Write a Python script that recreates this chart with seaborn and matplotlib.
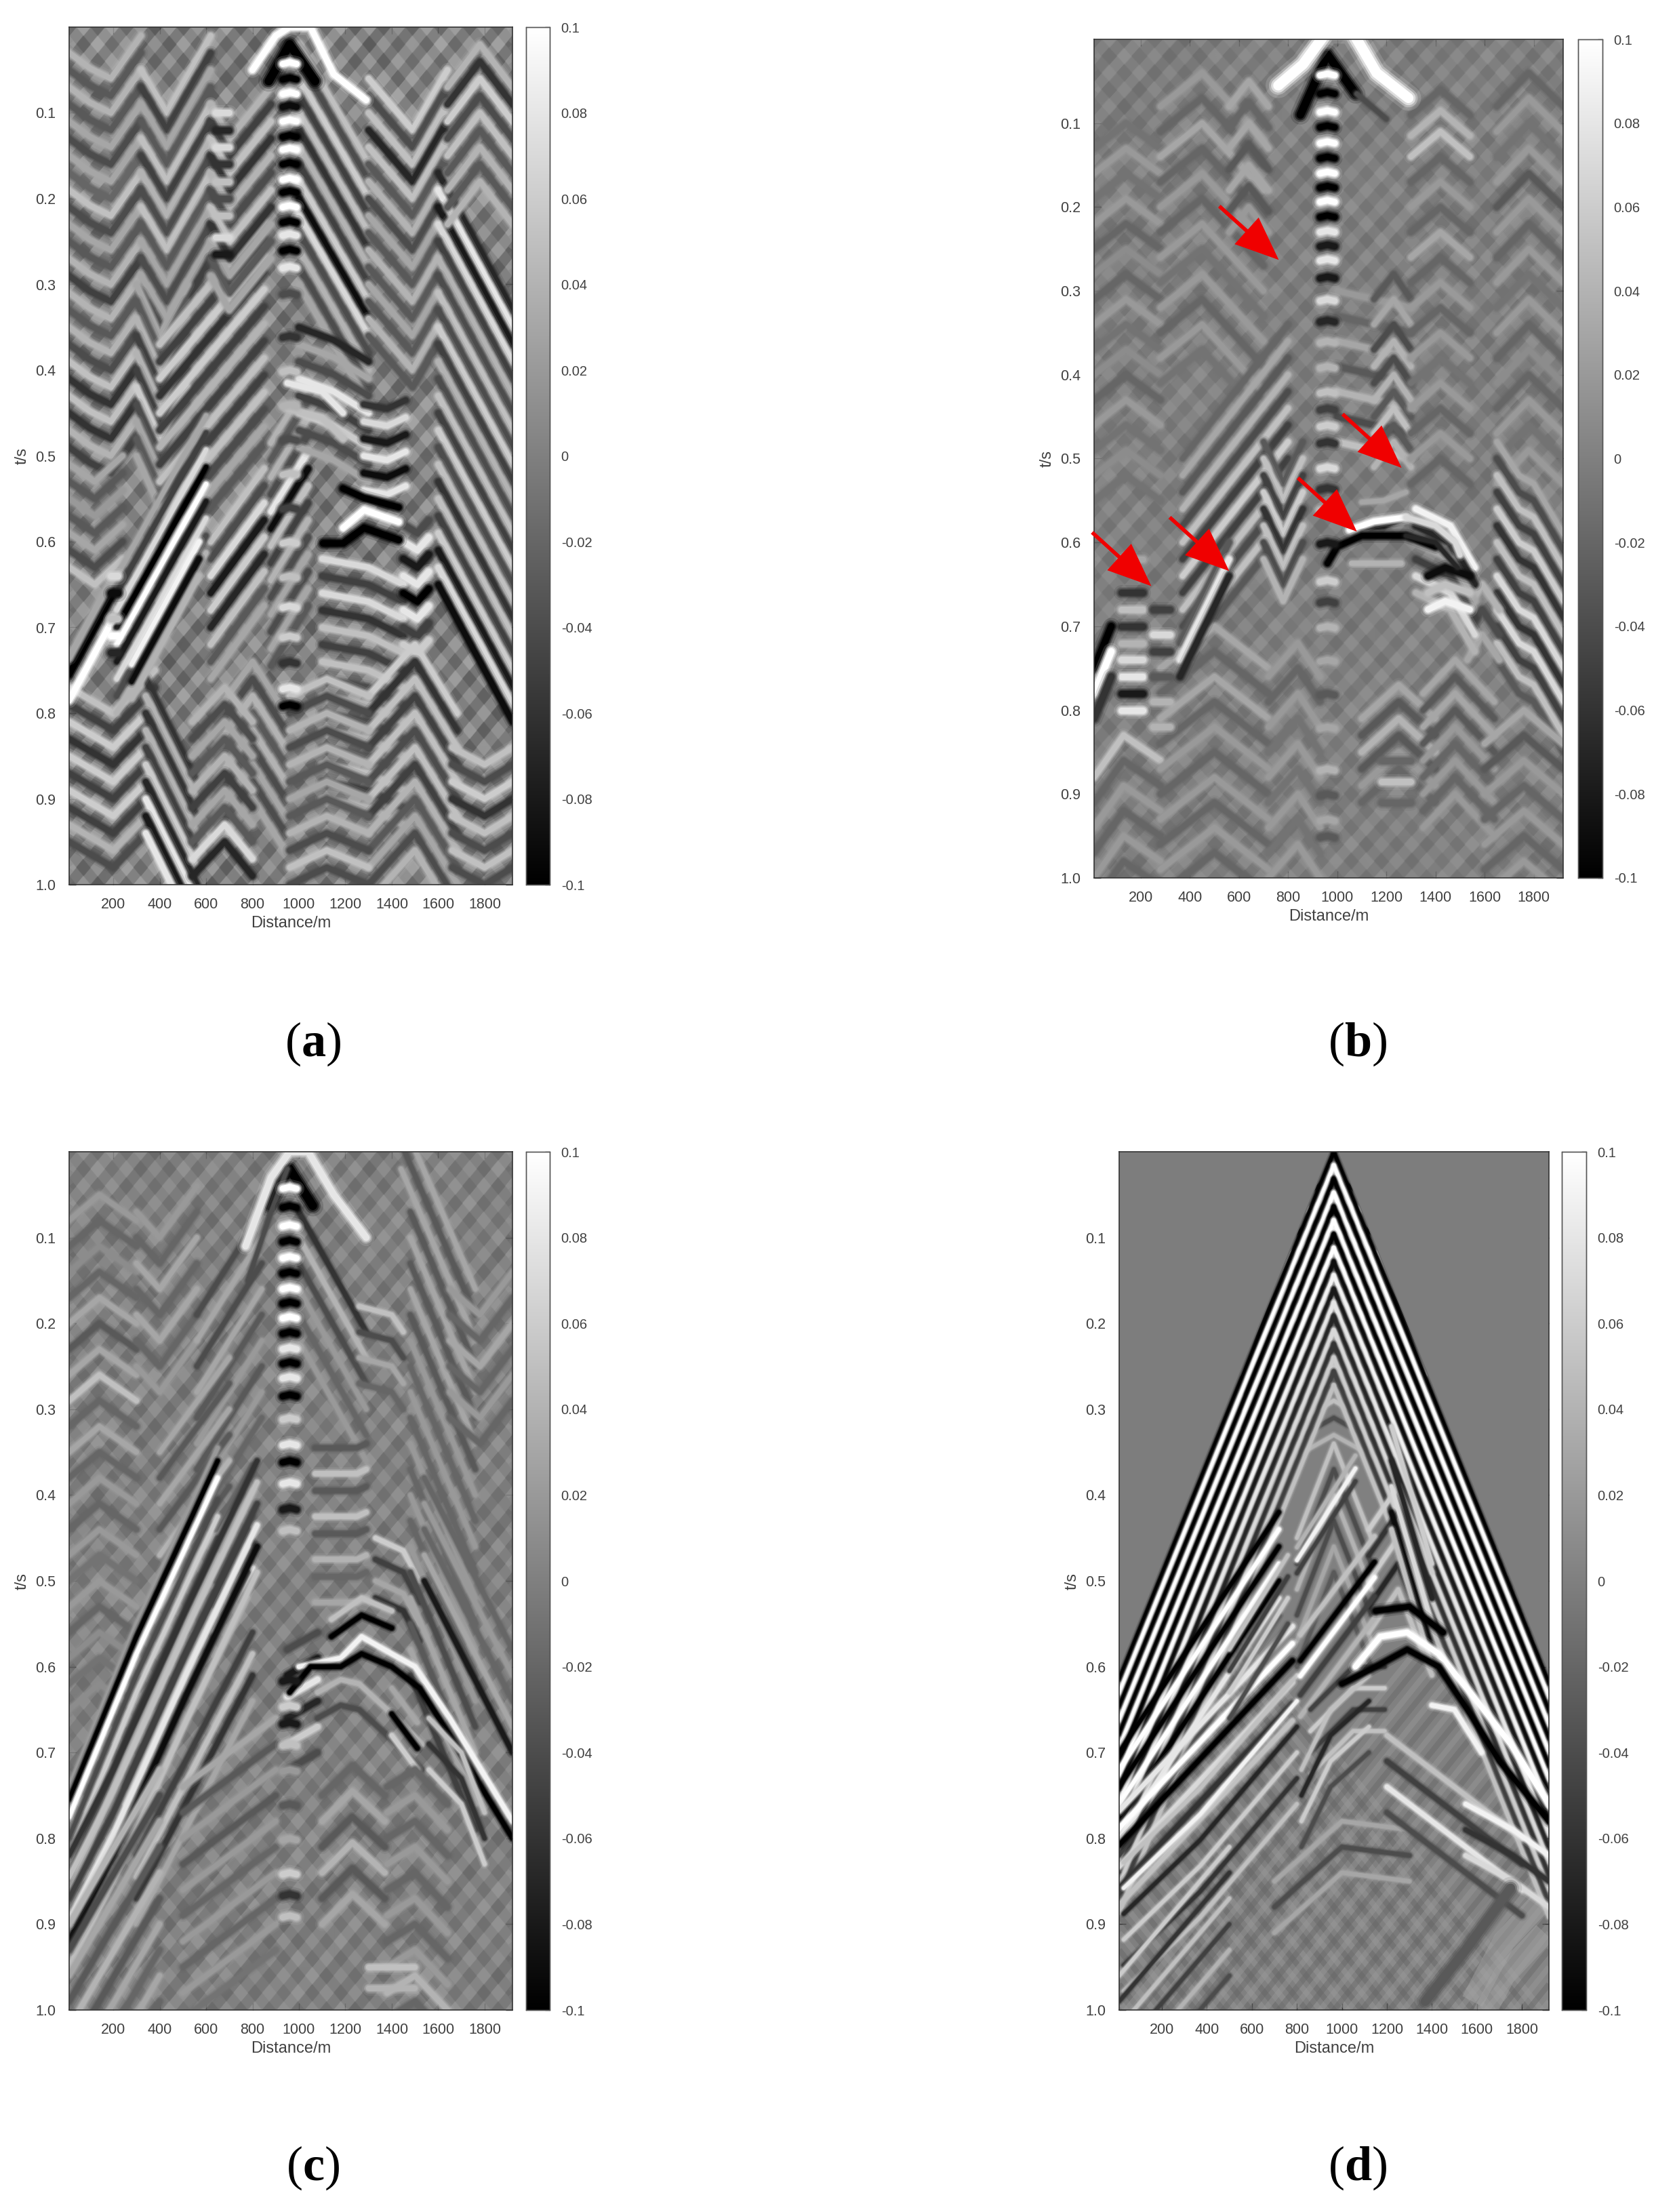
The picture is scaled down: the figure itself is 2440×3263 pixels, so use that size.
import matplotlib
matplotlib.use('Agg')
import matplotlib.pyplot as plt
import matplotlib.patheffects as pe
import numpy as np
import pandas as pd
import seaborn as sns

sns.set_theme(style='white')
plt.rcParams['font.family'] = ['Liberation Sans', 'DejaVu Sans']
plt.rcParams['mathtext.fontset'] = 'custom'
plt.rcParams['mathtext.bf'] = 'Liberation Serif:bold'

W, H = 2440, 3263
TEXT = '#404040'
x_ticks = [200, 400, 600, 800, 1000, 1200, 1400, 1600, 1800]
t_ticks = [0.1, 0.2, 0.3, 0.4, 0.5, 0.6, 0.7, 0.8, 0.9, 1.0]
t_labels = ['0.1', '0.2', '0.3', '0.4', '0.5', '0.6', '0.7', '0.8', '0.9', '1.0']
cbar_ticks = [0.1, 0.08, 0.06, 0.04, 0.02, 0, -0.02, -0.04, -0.06, -0.08, -0.1]
cbar_labels = ['0.1', '0.08', '0.06', '0.04', '0.02', '0', '-0.02', '-0.04', '-0.06', '-0.08', '-0.1']

# smooth background level of each panel, rows from t=0 to t=1
a_bg = [[0, 0, 0, 0, 0, 0], [.004, -.004, 0, .006, -.004, .002], [-.004, .004, -.004, 0, 0, 0],
        [0, 0, .004, -.004, .004, 0], [.004, -.004, 0, .004, -.004, .004], [0, .004, -.004, 0, .004, 0]]
b_bg = [[-.004, -.004, 0, 0, -.002, -.002], [0, -.002, -.002, 0, 0, 0], [-.002, 0, -.004, 0, 0, -.002],
        [0, -.002, 0, 0, -.002, 0], [0, 0, 0, .002, 0, 0], [-.002, 0, -.002, 0, 0, -.002]]
c_bg = [[0, 0, .002, 0, 0, 0], [.002, 0, 0, 0, 0, 0], [0, .002, 0, 0, 0, -.002],
        [0, 0, 0, 0, 0, 0], [-.002, 0, .002, 0, 0, 0], [0, 0, 0, 0, .002, 0]]
d_bg = [[-.002, -.002, -.002, -.002, -.002, -.002], [-.002, -.002, 0, 0, -.002, -.002], [-.002, 0, 0, 0, 0, -.002],
        [0, 0, 0, 0, 0, 0], [0, -.004, 0, 0, 0, 0], [0, 0, 0, 0, .004, .006]]

s24 = [.03, .05, .07, .09, .11, .13, .15, .17, .19, .21, .23, .25, .27, .29, .31, .33, .35, .37, .39, .41, .43, .45, .47, .49]

# weak crossing stripes seen through the three field panels
tex_off = [-.62, -.60, -.58, -.56, -.54, -.52, -.50, -.48, -.46, -.44, -.42, -.40, -.38, -.36, -.34, -.32, -.30, -.28, -.26, -.24,
           -.22, -.20, -.18, -.16, -.14, -.12, -.10, -.08, -.06, -.04, -.02, 0, .02, .04, .06, .08, .10, .12, .14, .16,
           .18, .20, .22, .24, .26, .28, .30, .32, .34, .36, .38, .40, .42, .44, .46, .48, .50, .52, .54, .56,
           .58, .60, .62, .64, .66, .68, .70, .72, .74, .76, .78, .80, .82, .84, .86, .88, .90, .92, .94, .96, .98, 1.0]
tex_up = [3, -2, 3, -4, 2, -3, 4, -3, 2, -2, 3, -4, 4, -2, 3, -3, 2, -4, 3, -3, 4, -2, 2, -3, 4, -4, 2, -3, 3, -2, 4, -3,
          2, -4, 3, -2, 3, -3, 4, -2, 3, -4, 2, -3, 3, -3, 4, -2, 2, -4, 3, -3, 2, -2, 4, -4, 3, -2, 3, -3, 2, -4, 4, -3,
          3, -2, 2, -3, 4, -3, 3, -4, 2, -2, 3, -3, 4, -3, 2, -4, 3, -2]
tex_dn = [-2, 3, -3, 4, -2, 3, -4, 2, -3, 3, -2, 4, -3, 2, -4, 3, -3, 2, -2, 4, -3, 3, -4, 2, -3, 3, -2, 4, -2, 3, -3, 4,
          -3, 2, -2, 3, -4, 3, -2, 4, -3, 2, -3, 3, -4, 2, -3, 4, -2, 3, -3, 2, -4, 3, -2, 3, -3, 4, -2, 3, -4, 2, -3, 3,
          -2, 4, -3, 2, -3, 3, -4, 2, -2, 4, -3, 3, -2, 3, -4, 2, -3, 3]

# bands: x (m), t (s), arrival times of each stripe, amplitude of each stripe in 0.01, stripe width
a_bands = [
    ([10, 100, 190, 320], [0, .018, .03, -.02], s24,
     [4, -3, 4, -3, 3, -4, 3, -2, 5, -4, 3, -3, 4, -5, 4, -3, 4, -4, 5, -6, 5, -6, 4, -5], 10),
    ([10, 120, 240], [-.02, 0, -.03], [.53, .55, .57, .59, .61, .63, .65], [3, -3, 2, -3, 3, -4, 5], 10),
    ([320, 430, 620], [0, .05, -.04], [.05, .07, .09, .11, .13, .15, .17, .19, .21, .23, .25, .27, .29, .31],
     [5, -5, 3, -3, 5, -5, 4, -4, 5, -3, 3, -4, 3, -5], 10),
    ([300, 400, 520], [-.03, .03, -.03], [.33, .35, .37, .39, .41, .43, .45, .47, .49, .51, .53],
     [3, -3, 4, -5, 4, -5, 6, -4, 3, -3, 3], 10),
    ([400, 850], [.07, -.074], [.30, .32, .34, .36, .38, .40, .42, .44, .46, .48, .50, .52, .54, .56],
     [5, -5, 6, -6, 6, -5, 4, -5, 5, -5, 5, -4, 3, -3], 10),
    ([620, 700, 880], [-.02, .02, -.04], [.11, .13, .15, .17, .19, .21, .23, .25, .27, .29, .31],
     [4, -5, 5, -6, 4, -4, 5, -6, 3, -3, 3], 10),
    ([640, 700], [0, 0], [.10, .12, .14, .16, .18, .20, .22, .245, .265], [7, -7, 7, -6, 5, -4, 5, 7, -8], 11),
    ([620, 850], [0, -.085], [.60, .62, .64, .66, .68, .70, .72, .74, .76], [5, -4, 7, -8, 6, -7, 5, -3, 3], 10),
    ([880, 1040], [.035, -.035], [.45, .47, .49, .51, .53, .55, .57, .59, .61, .63, .65, .67, .69, .71],
     [4, -3, 4, -4, 8, -9, 5, -5, 4, -4, 3, -4, 3, -3], 10),
    ([640, 800, 940], [.04, -.02, .04], [.76, .78, .80, .82, .84, .86, .88, .90, .92], [3, -4, 4, -3, 4, -4, 3, -4, 3], 10),
    ([1000, 1300], [-.07, .07], [.09, .11, .13, .15, .17, .19, .21, .23, .25, .27, .29, .31, .33, .35, .37],
     [5, -4, 6, -5, 5, -6, 4, -5, 6, -9, 7, -4, 4, -4, 3], 10),
    ([1300, 1490, 1640], [-.04, .02, -.05], [.10, .12, .14, .16, .18, .20, .22, .24, .26, .28, .30, .32, .34, .36, .38, .40],
     [6, -4, 5, -7, 5, -3, 4, -4, 3, -3, 4, -3, 3, -3, 4, -3], 10),
    ([1000, 1150, 1300], [-.01, .005, .03], [.36, .38, .40, .42, .44, .46, .48, .50], [-7, 3, -4, 8, -5, 6, -4, 3], 10),
    ([1280, 1380, 1460], [0, .005, -.005], [.44, .46, .48, .50, .52, .54], [-6, 7, -8, 8, -9, 8], 10),
    ([1100, 1300, 1450], [0, .01, .03], [.62, .64, .66, .68, .70, .72, .74, .76, .78, .80, .82, .84, .86, .88, .90],
     [7, -5, 7, -6, 5, -5, 5, -4, 4, -4, 4, -3, 5, -5, 4], 10),
    ([1450, 1510, 1560], [0, .01, -.005], [.58, .60, .62, .64, .66, .68, .70, .72], [-4, 8, -8, 8, -10, 8, -5, 6], 11),
    ([1600, 1920], [-.08, .08], [.25, .27, .29, .31, .33, .35, .37, .39, .41, .43, .45, .47, .49, .51, .53, .55, .57, .59, .61, .63, .65, .67, .69, .71, .73],
     [-7, 8, -8, 7, -5, 4, -4, 5, -4, 6, -5, 4, -4, 5, -5, 6, -4, 5, -6, 5, -5, 6, -8, 7, -9], 10),
    ([1640, 1780, 1920], [.02, -.03, .02], [.05, .07, .09, .11, .13, .15, .17, .19, .21], [4, -6, 6, -4, 5, -3, 4, -3, 4], 10),
    ([1300, 1500, 1680], [.06, 0, .08], [.72, .74, .76, .78, .80, .82, .84, .86, .88, .90, .92, .94, .96],
     [6, -6, 5, -5, 5, -4, 5, -5, 4, -3, 3, -4, 4], 10),
    ([1660, 1800, 1920], [0, .02, 0], [.84, .86, .88, .90, .92, .94, .96, .98], [5, -4, 6, -6, 5, -4, 5, -4], 10),
    ([10, 200, 380], [-.03, 0, -.05], [.80, .82, .84, .86, .88, .90, .92, .94, .96, .98],
     [5, -5, 6, -6, 6, -5, 6, -5, 4, -4], 10),
    ([340, 560], [-.06, .06], [.82, .84, .86, .88, .90, .92, .94, .96, .98, 1.0], [-6, 4, -6, 4, -5, 6, -7, 8, -8, 8], 10),
    ([540, 680, 800], [.03, -.01, .03], [.78, .80, .82, .84, .86, .88, .90, .92, .94, .96], [4, -4, 3, -3, 4, -5, 3, -3, 7, -7], 10),
    ([960, 1120, 1300], [.02, 0, .02], [.76, .78, .80, .82, .84, .86, .88, .90, .92, .94, .96, .98],
     [5, -4, 4, -4, 4, -3, 3, -3, 4, -4, 5, -4], 10),
    ([10, 200], [.755, .66], [0, -.02, .03], [-10, 3, 10], 11),
    ([215, 600], [.70, .513], [-.06, -.04, -.02, 0, .02, .04, .06, .08, .10], [3, -5, 7, -10, 10, -8, 7, -4, 4], 8),
    ([280, 570], [.763, .62], [-.02, 0, .02], [9, -9, 4], 9),
    ([190, 220], [.62, .62], [.02, .04, .07, .09, .11], [7, -9, 5, 10, -7], 12),
    ([1190, 1280, 1430], [.538, .549, .56], [0], [-10], 11),
    ([1190, 1280, 1430], [.584, .563, .577], [0], [10], 11),
    ([1105, 1190, 1280, 1430], [.602, .602, .584, .598], [0], [-10], 12),
    ([950, 1100, 1190], [.415, .425, .45], [0, .03], [8, 5], 10),
]
a_col_t = [.041, .059, .076, .091, .108, .126, .141, .158, .176, .191, .208, .226, .241, .259, .279, .31, .36,
           .40, .44, .48, .52, .56, .60, .64, .675, .71, .74, .77, .79]
a_col_v = [10, -10, 10, -9, 10, -10, 10, -10, 10, -10, 10, -10, 8, -10, 8, -4, -6,
           5, 4, -4, 5, -5, 6, 5, 7, 6, -6, 8, -10]
a_arcs = [([870, 960, 1070], [.063, .02, .063], [0], [-10], 15),
          ([800, 900, 960, 1050, 1150, 1290], [.05, .01, 0, .0, .055, .085], [0], [10], 11)]

b_bands = [
    ([10, 140, 280], [.03, 0, .03], [.10, .13, .16, .19, .22, .25, .28, .31, .34, .37, .40, .43, .46, .49, .52],
     [-1, 2, -1, 2, -2, 1, -2, 2, -1, 1, -2, 2, -1, 1, -1], 10),
    ([280, 450, 700], [0, -.04, .04], [.08, .11, .14, .17, .20, .23, .26, .29, .32, .35, .38, .41],
     [2, -2, 3, -2, 2, -2, 2, -1, 2, -2, 2, -1], 10),
    ([560, 640, 720], [.03, 0, .03], [.05, .075, .10, .125, .15, .175, .20], [3, -2, 3, -3, 3, -3, 2], 10),
    ([370, 800], [.10, -.06], [.40, .42, .44, .46, .48, .50, .52, .54, .56, .58, .60, .62, .64],
     [-2, 3, -3, 4, -4, 5, -5, 6, -5, 5, -4, 5, -3], 9),
    ([700, 780, 860], [-.02, .03, -.02], [.50, .52, .54, .56, .58, .60, .62, .64], [-3, 5, -5, 6, -6, 5, -4, 4], 9),
    ([1000, 1300], [0, .02], [.30, .33, .36, .39, .42, .45, .48], [2, -2, 3, -3, 4, -4, 5], 10),
    ([1150, 1230, 1300], [.02, -.01, .02], [.29, .32, .35, .37, .39, .41, .43, .45, .47, .49], [-3, 3, -4, 4, -4, 4, -3, 5, -3, 4], 9),
    ([1300, 1420, 1540], [.03, 0, .03], [.06, .085, .11, .14, .17, .20, .23, .26, .29, .32, .35, .38, .41, .44, .47, .50],
     [-2, 4, 5, -2, 2, -2, 3, -2, 2, -2, 2, -1, 2, -2, 2, -2], 10),
    ([1650, 1780, 1920], [.03, -.01, .03], [.05, .08, .11, .14, .17, .20, .23, .26, .29, .32, .35, .38, .41, .44, .47, .50],
     [-2, 2, -1, 2, -3, 2, -2, 2, -1, 2, -2, 1, -2, 2, -1, 2], 10),
    ([1650, 1740, 1800, 1920], [-.02, .02, .03, .09], [.50, .52, .54, .56, .58, .60, .62, .64, .66, .68, .70, .72, .74, .76],
     [3, -4, 5, -5, 6, -6, 5, -5, 7, -6, 7, -5, 5, -3], 9),
    ([1530, 1590, 1660], [.02, -.01, .02], [.66, .69, .72], [4, -4, 3], 10),
    ([1320, 1460, 1560], [-.02, 0, .05], [.58, .60, .62, .64, .66, .68], [9, -7, 3, -5, 7, 4], 10),
    ([1370, 1440, 1540], [.01, 0, .01], [.63, .65, .67], [-9, 5, 9], 11),
    ([1100, 1250, 1400], [.03, -.01, .03], [.78, .80, .82, .84, .86, .88], [3, -3, 4, -3, 2, -2], 10),
    ([1350, 1480, 1640], [.04, 0, .05], [.74, .76, .78, .80, .82, .84, .86, .88, .90], [3, -3, 3, -3, 2, -2, 2, -2, 2], 9),
    ([10, 130, 280], [.05, 0, .03], [.83, .86, .89, .92, .95, .98], [5, -2, 2, -2, 2, -2], 10),
    ([280, 500, 720], [.05, 0, .05], [.70, .73, .76, .79, .82, .85, .88, .91, .94, .97], [3, -2, 3, -2, 2, -2, 2, -2, 2, -2], 10),
    ([720, 840, 930], [.04, 0, .04], [.72, .75, .78, .81, .84, .87, .90, .93, .96], [2, -2, 2, -1, 2, -1, 2, -1, 2], 10),
    ([1600, 1760, 1920], [.04, 0, .04], [.80, .83, .86, .89, .92, .95, .98], [3, -3, 2, -2, 2, -2, 2], 10),
    ([120, 210], [0, 0], [.62, .66, .68, .70, .72, .74, .76, .78, .80], [3, -6, 5, -6, 4, 7, 8, -8, 8], 11),
    ([250, 320], [0, 0], [.68, .71, .73, .76, .79, .82], [-5, 7, -5, -3, 4, 4], 11),
    ([360, 560], [.06, -.06], [.66, .68, .70], [-3, 8, -7], 10),
    ([10, 80], [.75, .70], [0, .03, .06], [-10, 10, -6], 12),
    ([1180, 1300], [0, 0], [.86, .885, .91], [-2, 5, -2], 11),
    ([1100, 1190, 1280], [.552, .55, .54], [0, .03], [3, -9], 8),
    ([1050, 1150, 1280], [.585, .575, .57], [0], [10], 10),
    ([960, 1000, 1100, 1280, 1400], [.625, .605, .592, .592, .605], [0], [-10], 10),
    ([1280, 1400, 1480, 1500], [.57, .58, .60, .615], [0], [7], 9),
    ([1280, 1400, 1490], [.592, .60, .63], [0], [-7], 7),
    ([1060, 1260], [.625, .625], [0], [4], 9),
]
b_col_t = [.041, .063, .085, .103, .122, .14, .158, .175, .192, .21, .228, .245, .262, .283, .31, .335, .36, .39, .42, .44, .46, .48, .51, .535, .56, .60,
           .645, .67, .70, .74, .78, .82, .87, .90, .93, .95]
b_col_v = [10, -10, 10, -10, 10, -10, 10, -10, 10, -10, 8, -8, 8, -8, 7, -7, 4, 4, 5, -5, 6, -6, 7, -6, 5, -8,
           6, -5, 4, 3, -3, 3, 4, -3, 3, -3]
b_arcs = [([850, 960, 1075], [.09, .018, .065], [0], [-10], 14),
          ([760, 860, 960, 1060, 1160, 1290], [.055, .03, -.01, -.01, .04, .07], [0], [10], 18),
          ([1080, 1200], [.065, .095], [0], [-4], 8)]
b_arrows = [([2, 243], [.588, .652]), ([318, 560], [.57, .634]), ([840, 1080], [.523, .587]),
            ([1022, 1262], [.447, .511]), ([520, 762], [.199, .263])]

c_bands = [
    ([10, 140, 300], [.03, 0, .03], [.05, .08, .11, .14, .17, .20, .23, .26, .29, .32, .35, .38, .41, .44, .47, .50, .53, .56, .59, .62],
     [2, -2, 1, -2, 3, -3, 3, 5, -2, 3, -2, 2, -2, 2, -1, 2, -2, 1, -1, 1], 9),
    ([300, 400, 560], [0, .03, -.03], [.07, .10, .13, .16, .19, .22, .25], [2, -2, 3, -2, 3, -2, 2], 9),
    ([560, 840], [.05, -.07], [.14, .17, .20, .23, .26, .29, .32, .35, .38], [-4, 3, -4, 3, -3, 2, -3, 2, -2], 8),
    ([400, 700], [.07, -.04], [.28, .31, .34, .37, .40, .43, .46], [3, -3, 3, -3, 4, -3, 3], 8),
    ([640, 800], [.04, -.035], [.40, .43, .46, .49, .52], [-2, 3, -3, -6, 8], 8),
    ([1000, 1290], [-.10, .04], [.17, .20, .23, .26, .29, .32], [-6, 4, -4, 2, -2, 2], 8),
    ([1070, 1250, 1290], [.005, .005, .0], [.34, .37, .39, .42, .44, .47, .49, .52], [-3, 5, -3, 5, -3, 4, -2, 3], 9),
    ([1260, 1400, 1450], [.0, .01, .03], [.18, .21, .24, .27], [5, -4, 3, -2], 8),
    ([1330, 1450, 1520], [-.01, .005, .04], [.46, .485, .51, .53], [6, -5, 3, -6], 8),
    ([1480, 1760], [-.09, .09], [.16, .19, .22, .25, .28, .31, .34, .37, .40, .43, .46, .49, .52, .55, .58, .61, .64, .67, .70],
     [-3, 3, -3, 3, -3, 2, -2, 2, -2, 2, -2, 2, -2, 2, -4, 3, -3, 3, -5], 8),
    ([1440, 1760], [-.10, .10], [.06, .09, .12], [3, -3, 3], 8),
    ([1650, 1780, 1920], [0, .03, -.02], [.16, .19, .22, .25, .28, .31], [2, -2, 3, -2, 2, -2], 9),
    ([1540, 1920], [-.10, .10], [.48, .51, .54, .57, .60], [-2, 2, -2, 3, -8], 8),
    ([10, 300, 650], [.755, .565, .36], [-.015, 0, .02, .045, .065, .09, .11], [2, -10, 10, -4, 6, -4, 4], 7),
    ([250, 500, 780], [.73, .58, .43], [.01, .03, .06, .09], [-5, 4, -3, 3], 7),
    ([10, 200, 520, 820], [.82, .72, .53, .36], [0, .025, .05, .075, .10, .13], [-6, 5, -5, 8, -9, 5], 8),
    ([300, 800], [.76, .50], [.06, .085, .11, .14], [-5, 5, -6, 3], 8),
    ([10, 400], [.90, .72], [0, .03, .06, .09, .12, .15, .18, .21, .24, .27], [4, -4, 3, -3, 4, -3, 3, -2, 3, -2], 9),
    ([500, 900], [.02, -.06], [.72, .75, .78, .81, .84, .87, .90, .93, .96, .99], [3, -3, 2, -3, 2, -2, 2, -2, 2, -1], 9),
    ([950, 1080], [-.01, -.03], [.59, .62, .645, .67, .70, .73], [-4, -8, 8, -7, 6, -4], 10),
    ([1080, 1180, 1260, 1400, 1530], [.63, .615, .62, .655, .69], [0, .03], [4, -4], 8),
    ([1140, 1270, 1400], [.565, .54, .555], [0, -.02], [-10, 5], 8),
    ([1000, 1180, 1270, 1400, 1500, 1650, 1920], [.60, .59, .565, .585, .60, .66, .78], [0], [9], 8),
    ([960, 1050, 1180, 1270, 1400, 1520, 1650, 1920], [.63, .60, .60, .585, .60, .625, .68, .80], [0], [-10], 8),
    ([1400, 1510], [.625, .665], [0, .03, .055], [3, -10, 6], 8),
    ([1560, 1700, 1800], [.66, .70, .77], [0, .03, .06], [5, -6, 6], 7),
    ([1100, 1230, 1370], [.03, -.005, .03], [.72, .75, .78, .81, .84, .87], [-2, 3, -3, 4, -3, 3], 10),
    ([1380, 1500, 1640], [.02, 0, .04], [.72, .75, .78, .81, .84, .87, .90, .93, .96, .99], [-2, 2, -2, 2, -2, 2, -2, 2, 4, -2], 10),
    ([1300, 1500], [0, 0], [.95, .975], [5, 4], 10),
]
c_col_t = [.041, .063, .085, .103, .122, .14, .158, .175, .192, .21, .228, .245, .262, .283, .31, .34, .36, .385, .415, .44,
           .615, .645, .665, .69, .72, .76, .80, .84, .865, .89]
c_col_v = [10, -10, 10, -10, 10, -10, 10, -10, 10, -10, 8, -10, 8, -10, 6, 8, -10, 8, -8, 5,
           -8, 6, -8, 5, 2, -3, 3, 6, -6, 5]
c_arcs = [([870, 960, 1060], [.063, .02, .063], [0], [-10], 15),
          ([770, 880, 960, 1040, 1150, 1290], [.11, .03, 0, .0, .05, .10], [0], [8], 12),
          ([780, 880, 950], [.15, .07, .02], [0], [-4], 7)]

d_arcs = [([560, 760, 964, 1170, 1370], [.13, .03, 0, .03, .13],
           [.03, .05, .07, .09, .11, .13, .15, .17, .19, .21, .23, .25, .27, .29, .31, .33],
           [-8, 8, -8, 8, -7, 7, -7, 7, -6, 6, -5, 5, -5, 5, -4, 4], 6)]
d_fine_off = [.39, .41, .43, .45, .47, .49, .51, .53, .55, .57, .59, .61, .63, .65, .67, .69, .71, .73, .75, .77, .79, .81, .83, .85, .87, .89, .91, .93, .95, .97, .99]
d_fine_amp = [2, -2, 2, -2, 2, -2, 2, -2, 2, -2, 2, -2, 2, -2, 2, -2, 2, -2, 2, -2, 2, -2, 2, -2, 2, -2, 2, -2, 2, -2, 2]
wedge_x = [10, 964, 1920, 1920, 10]
wedge_t = [.61, -.01, .61, 0, 0]
d_edge_off = [0, .016, .032, .048, .064, .08, .096, .112, .128, .144, .16, .176, .192, .208, .224, .24, .256, .272]
d_edge_amp = [-10, 10, -10, 10, -10, 10, -10, 10, -9, 9, -8, 8, -7, 7, -6, 6, -5, 5]
d_bands = [
    ([10, 964], [.615, 0], d_edge_off, d_edge_amp, 6),
    ([964, 1920], [0, .62], d_edge_off, d_edge_amp, 6),
    ([800, 964, 1130], [.11, 0, .11], [.34, .37, .40, .43, .46, .49], [5, -4, 4, -4, 3, -3], 6),
    ([1120, 1250, 1400], [.05, 0, .10], [.39, .42, .45, .48, .51], [6, -6, 6, -7, 5], 7),
    ([1220, 1400], [-.08, .08], [.40, .44, .47, .50, .52], [6, -7, 7, -9, 5], 7),
    ([10, 720], [.74, .46], [-.04, -.02, 0, .02, .04, .06, .08], [-10, 10, -10, 10, -10, 8, -5], 7),
    ([10, 780], [.808, .593], [-.04, -.02, 0, .025, .05, .07], [8, 10, -10, 7, -6, 5], 8),
    ([500, 760], [.58, .47], [0, .025, .05, .08], [5, -5, 6, -4], 6),
    ([30, 370, 800], [.858, .772, .64], [-.03, 0, .03, .06, .09, .12], [5, 9, -7, 6, -6, 5], 6),
    ([10, 500], [.91, .76], [.05, .08, .11, .14, .17, .20], [6, -6, 5, -5, 4, -4], 6),
    ([800, 1060], [.471, .364], [-.01, .005, .02], [4, 9, -5], 6),
    ([815, 1145], [.593, .478], [-.03, 0, .018, .04, .065], [5, -10, 10, -5, 4], 7),
    ([860, 1050, 1190], [.65, .60, .60], [0, .025, .05, .075], [-5, 6, -5, 5], 6),
    ([820, 950, 1120], [.75, .68, .64], [-.03, 0, .03, .06], [5, -7, 6, -4], 6),
    ([700, 1000, 1300], [.85, .78, .79], [0, .03, .06], [3, -4, 3], 7),
    ([1200, 1500, 1800], [.64, .70, .76], [.04, .07, .10, .13], [5, -5, 8, -4], 8),
    ([1550, 1760, 1920], [.76, .79, .82], [0, .03, .06], [9, -6, 7], 8),
    ([1150, 1300, 1450], [.535, .53, .56], [0], [-10], 10),
    ([1060, 1170, 1290, 1430, 1570, 1750, 1920], [.60, .565, .56, .585, .63, .69, .76], [0], [10], 10),
    ([1000, 1150, 1290, 1430, 1570, 1700, 1920], [.62, .60, .58, .60, .655, .71, .78], [0], [-10], 9),
    ([1400, 1500, 1620], [.645, .65, .70], [0], [9], 8),
    ([1750, 1550, 1370], [.858, .93, .99], [0], [-3], 16),
]
d_glow = [([1900, 1720, 1580], [.87, .92, .99], [.0, .04], [3, 3], 24)]


def grey(amp):
    return plt.get_cmap('gray')((amp + 10) / 20)


def draw_bands(ax, bands, z=2):
    # stacked translucent strokes so a stripe fades out at its edges
    for xs, ts, offs, amps, lw in bands:
        for off, amp in zip(offs, amps):
            c = grey(amp)
            line = sns.lineplot(x=xs, y=[t + off for t in ts], ax=ax, color=c, lw=lw * .6, sort=False,
                                estimator=None, solid_capstyle='round', zorder=z).lines[-1]
            line.set_path_effects([pe.Stroke(linewidth=lw * 1.5, foreground=c, alpha=.15),
                                   pe.Stroke(linewidth=lw * 1.1, foreground=c, alpha=.3),
                                   pe.Stroke(linewidth=lw * .85, foreground=c, alpha=.55),
                                   pe.Normal()])


def draw_wash(ax, bands):
    # crossing stripes blend where they meet instead of one hiding the other
    for xs, ts, offs, amps, lw in bands:
        for off, amp in zip(offs, amps):
            sns.lineplot(x=xs, y=[t + off for t in ts], ax=ax, color=grey(amp), lw=lw, alpha=.45, sort=False,
                         estimator=None, solid_capstyle='butt', zorder=1.5)


def draw_panel(box, cbox, bg, bands, letter, label_x, wash=None, under=None, mask=None, arcs=None, col=None):
    l, t, r, b = box
    rect = [l / W, 1 - b / H, (r - l) / W, (b - t) / H]
    heat_ax = fig.add_axes(rect)
    cax = fig.add_axes([cbox[0] / W, 1 - b / H, (cbox[1] - cbox[0]) / W, (b - t) / H])
    frame = pd.DataFrame(bg)
    sns.heatmap(frame, ax=heat_ax, cbar_ax=cax, cmap='gray', vmin=-0.1, vmax=0.1, xticklabels=False,
                yticklabels=False, shading='gouraud', cbar_kws={'ticks': cbar_ticks})
    heat_ax.set_xlim(0, frame.shape[1] - 1)
    heat_ax.set_ylim(frame.shape[0] - 1, 0)
    heat_ax.axis('off')

    cax.set_yticklabels(cbar_labels, fontsize=14.5, color=TEXT)
    cax.tick_params(axis='y', direction='in', length=5, width=1, color='#444444', right=True, pad=12)
    for s in cax.spines.values():
        s.set_visible(True)
        s.set_color('#555555')
        s.set_linewidth(1)

    ax = fig.add_axes(rect, facecolor='none')
    ax.set_xlim(10, 1920)
    ax.set_ylim(1.0, 0)
    if wash:
        draw_wash(ax, wash)
    if under:
        draw_bands(ax, under)
    if mask:
        ax.fill(mask[0], mask[1], color=grey(-.2), lw=0, zorder=2.5)
    draw_bands(ax, bands, z=3)
    if arcs:
        draw_bands(ax, arcs, z=3)
    if col:
        for tc, v in zip(col[0], col[1]):
            draw_bands(ax, [([930, 960, 990], [tc + .002, tc, tc + .002], [0], [v], 11)], z=3)
    ax.set_xlim(10, 1920)
    ax.set_ylim(1.0, 0)
    ax.set_xticks(x_ticks)
    ax.set_yticks(t_ticks)
    ax.set_yticklabels(t_labels)
    ax.tick_params(direction='in', length=7, width=1, color='#333333', labelcolor=TEXT, labelsize=15.5,
                   top=True, right=True, bottom=True, left=True, pad=14)
    ax.set_xlabel('Distance/m', fontsize=17, color=TEXT, labelpad=4)
    ax.set_ylabel('t/s', fontsize=17, color=TEXT, labelpad=6)
    for s in ax.spines.values():
        s.set_visible(True)
        s.set_color('#333333')
        s.set_linewidth(1.2)
        s.set_zorder(5)
    label_y = 1540 if t < 1000 else 3198
    fig.text(label_x / W, 1 - label_y / H, '(' + r'$\mathbf{' + letter + '}$' + ')', family='Liberation Serif',
             fontsize=52, color='black', ha='center', va='center')
    return ax


a_wash = [([10, 1920], [0, .62], tex_off, tex_up, 11), ([10, 1920], [.62, 0], tex_off, tex_dn, 11)]
b_wash = [([10, 1920], [0, .62], tex_off, [v * .45 for v in tex_up], 11), ([10, 1920], [.62, 0], tex_off, [v * .45 for v in tex_dn], 11)]
c_wash = [([10, 1920], [0, .62], tex_off, [v * .6 for v in tex_up], 11), ([10, 1920], [.62, 0], tex_off, [v * .6 for v in tex_dn], 11)]
d_wash = [([10, 1920], [0, .62], d_fine_off, d_fine_amp, 6), ([10, 1920], [.62, 0], d_fine_off, d_fine_amp, 6)] + d_glow

fig = plt.figure(figsize=(W / 100, H / 100), dpi=100)
draw_panel((102, 40, 756, 1305), (776, 811), a_bg, a_bands, 'a', 462, wash=a_wash, arcs=a_arcs, col=(a_col_t, a_col_v))
ax_b = draw_panel((1614, 58, 2306, 1295), (2328, 2364), b_bg, b_bands, 'b', 2003, wash=b_wash, arcs=b_arcs, col=(b_col_t, b_col_v))
draw_panel((102, 1699, 756, 2965), (776, 811), c_bg, c_bands, 'c', 462, wash=c_wash, arcs=c_arcs, col=(c_col_t, c_col_v))
draw_panel((1651, 1699, 2285, 2965), (2304, 2340), d_bg, d_bands, 'd', 2003, wash=d_wash, under=d_arcs, mask=(wedge_x, wedge_t))

for xs, ts in b_arrows:
    ax_b.annotate('', xy=(xs[1], ts[1]), xytext=(xs[0], ts[0]), annotation_clip=False, zorder=8,
                  arrowprops=dict(width=4, headwidth=38, headlength=46, color='#f00000', shrink=0, lw=0))

fig.savefig('out.png', dpi=100)
